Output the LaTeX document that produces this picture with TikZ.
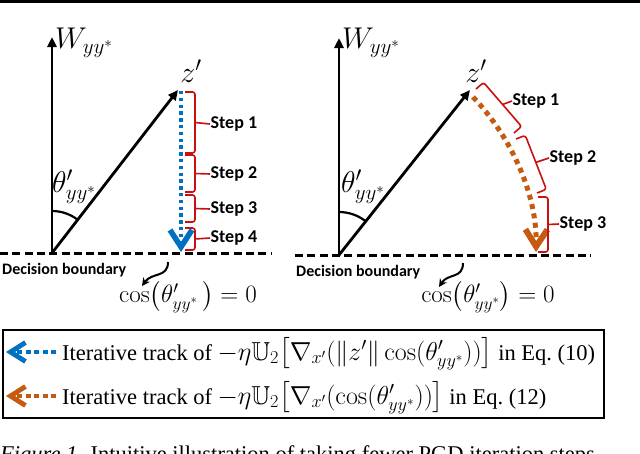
\documentclass[tikz,border=0pt]{standalone}
\usepackage{fix-cm}
\usepackage{amsmath,amssymb}
\usepackage[no-math]{fontspec}
\setmainfont{Liberation Serif}
\newfontfamily\calibrifont{Carlito}
\usetikzlibrary{arrows.meta,calc}
\definecolor{myblue}{RGB}{0,112,192}
\definecolor{myorange}{RGB}{197,90,17}
\definecolor{myred}{RGB}{200,16,16}
\newcommand{\legmath}[1]{{\fontsize{26}{30}\selectfont$#1$}}
\tikzset{
  axis/.style={line width=2.8pt,-{Triangle[length=10pt,width=9pt]}},
  boundary/.style={line width=3pt,dash pattern=on 8pt off 4.3pt},
  bluetrack/.style={myblue,line width=3.5pt,dash pattern=on 3.4pt off 3.4pt,
     -{Straight Barb[length=17pt,width=22pt,line width=5.5pt]}},
  orangetrack/.style={myorange,line width=5pt,dash pattern=on 5pt off 4.5pt,
     -{Straight Barb[length=17pt,width=22pt,line width=6pt]}},
  bluelegend/.style={myblue,line width=3.5pt,dash pattern=on 5pt off 3.5pt,
     -{Straight Barb[length=15pt,width=19pt,line width=4.8pt]}},
  orangelegend/.style={myorange,line width=3.5pt,dash pattern=on 5pt off 3.5pt,
     -{Straight Barb[length=15pt,width=19pt,line width=4.8pt]}},
  stepbr/.style={myred,line width=1.6pt,rounded corners=2.5pt},
  steplabel/.style={font=\calibrifont\bfseries\fontsize{18}{21}\selectfont,inner sep=0.5pt},
  dblabel/.style={font=\calibrifont\bfseries\fontsize{16}{19}\selectfont,inner sep=0pt},
  mathlbl/.style={font=\fontsize{30}{34}\selectfont,inner sep=0pt},
  coslbl/.style={font=\fontsize{25}{29}\selectfont,inner sep=0pt},
  legtext/.style={font=\fontsize{22.5}{27}\selectfont,inner sep=0pt},
  squig/.style={line width=2pt,-{Stealth[length=8pt,width=8pt]}},
  anglearc/.style={line width=2.2pt}
}
\begin{document}
\begin{tikzpicture}[x=1pt,y=-1pt]
\useasboundingbox (0,0) rectangle (640,453);
\clip (0,0) rectangle (640,453);
\fill[white] (0,0) rectangle (640,453);
\fill[black] (0,0) rectangle (640,2.6);

% ---------------- left panel ----------------
\coordinate (OL) at (52,253);
\coordinate (WL) at (52,37);
\coordinate (ZL) at (178,90);
\coordinate (BLa) at (0,253);
\coordinate (BLb) at (271,253);
\draw[boundary] (BLa) -- (BLb);
\draw[axis] (OL) -- (WL);
\draw[axis] (OL) -- (ZL);
\draw[anglearc] ($(OL)+(0,-42)$) arc[start angle=90,end angle=52.3,radius=42pt];
\node[mathlbl,anchor=west] (WLl) at (55,43) {$W_{yy^*}$};
\node[mathlbl] (ZLl) at (191,71) {$z'$};
\node[mathlbl,anchor=west] (TLl) at (52,187) {$\theta'_{yy^*}$};
\coordinate (TSL) at (181,91);
\coordinate (TEL) at (181,252);
\draw[bluetrack] (TSL) -- (TEL);
\foreach \n/\ya/\yb/\yl in {1/92/153/124,2/155/192/174,3/195/222/209,4/228/250/238}{
  \coordinate (La\n) at (185,\ya);
  \coordinate (Lb\n) at (185,\yb);
  \node[steplabel,anchor=west] (Ls\n) at (210,\yl) {Step \n};
  \draw[stepbr] (La\n) -- ($(La\n)!10pt!90:(Lb\n)$) -- ($(Lb\n)!10pt!-90:(La\n)$) -- (Lb\n);
  \draw[stepbr] ($(La\n)!0.5!(Lb\n)!10pt!90:(Lb\n)$) -- (Ls\n.west);
}
\node[dblabel,anchor=west] (DBL) at (2,270) {Decision boundary};
\node[coslbl] (CL) at (188,297) {$\cos\bigl(\theta'_{yy^*}\,\bigr)=0$};
\coordinate (SQLa) at (168,262);
\coordinate (SQLb) at (142,286);
\draw[squig] (SQLa) .. controls (168,278) and (152,272) .. (SQLb);

% ---------------- right panel ----------------
\coordinate (OR) at (339,255);
\coordinate (WR) at (339,38);
\coordinate (ZR) at (470,90);
\coordinate (BRa) at (295,255);
\coordinate (BRb) at (591,255);
\draw[boundary] (BRa) -- (BRb);
\draw[axis] (OR) -- (WR);
\draw[axis] (OR) -- (ZR);
\draw[anglearc] ($(OR)+(0,-43)$) arc[start angle=90,end angle=51.6,radius=43pt];
\node[mathlbl,anchor=west] (WRl) at (342,43) {$W_{yy^*}$};
\node[mathlbl] (ZRl) at (476,71) {$z'$};
\node[mathlbl,anchor=west] (TRl) at (341,187) {$\theta'_{yy^*}$};
\coordinate (TSR) at (473,97);
\coordinate (TER) at (536,252);
\draw[orangetrack] (TSR) .. controls (512,138) and (537,195) .. (TER);
\foreach \n/\ax/\ay/\bx/\by/\lx/\ly in {1/476/89/514/133/512/101,2/516/139/537/193/549/158,3/538/197/538/252/559/224}{
  \coordinate (Ra\n) at (\ax,\ay);
  \coordinate (Rb\n) at (\bx,\by);
  \node[steplabel,anchor=west] (Rs\n) at (\lx,\ly) {Step \n};
  \draw[stepbr] (Ra\n) -- ($(Ra\n)!10pt!90:(Rb\n)$) -- ($(Rb\n)!10pt!-90:(Ra\n)$) -- (Rb\n);
  \draw[stepbr] ($(Ra\n)!0.5!(Rb\n)!10pt!90:(Rb\n)$) -- (Rs\n.west);
}
\node[dblabel,anchor=west] (DBR) at (296,272) {Decision boundary};
\node[coslbl] (CR) at (488,297) {$\cos\bigl(\theta'_{yy^*}\bigr)=0$};
\coordinate (SQRa) at (463,263);
\coordinate (SQRb) at (439,287);
\draw[squig] (SQRa) .. controls (463,279) and (448,273) .. (SQRb);

% ---------------- legend ----------------
\draw[line width=2.5pt] (3,330) rectangle (604,418);
\coordinate (LG1s) at (56,352);
\coordinate (LG1e) at (6,352);
\draw[bluelegend] (LG1s) -- (LG1e);
\node[legtext,anchor=base west] (LT1) at (62,360)
  {Iterative track of \legmath{-\eta\mathbb{U}_2\bigl[\nabla_{x'}(\|z'\|\cos(\theta'_{yy^*}))\bigr]} in Eq.~(10)};
\coordinate (LG2s) at (56,396);
\coordinate (LG2e) at (6,396);
\draw[orangelegend] (LG2s) -- (LG2e);
\node[legtext,anchor=base west] (LT2) at (62,404)
  {Iterative track of \legmath{-\eta\mathbb{U}_2\bigl[\nabla_{x'}(\cos(\theta'_{yy^*}))\bigr]} in Eq.~(12)};

% ---------------- caption (cut off) ----------------
\node[legtext,anchor=base west] (CAP) at (0,461)
  {\textit{Figure 1.} Intuitive illustration of taking fewer PGD iteration steps};
\end{tikzpicture}
\end{document}
